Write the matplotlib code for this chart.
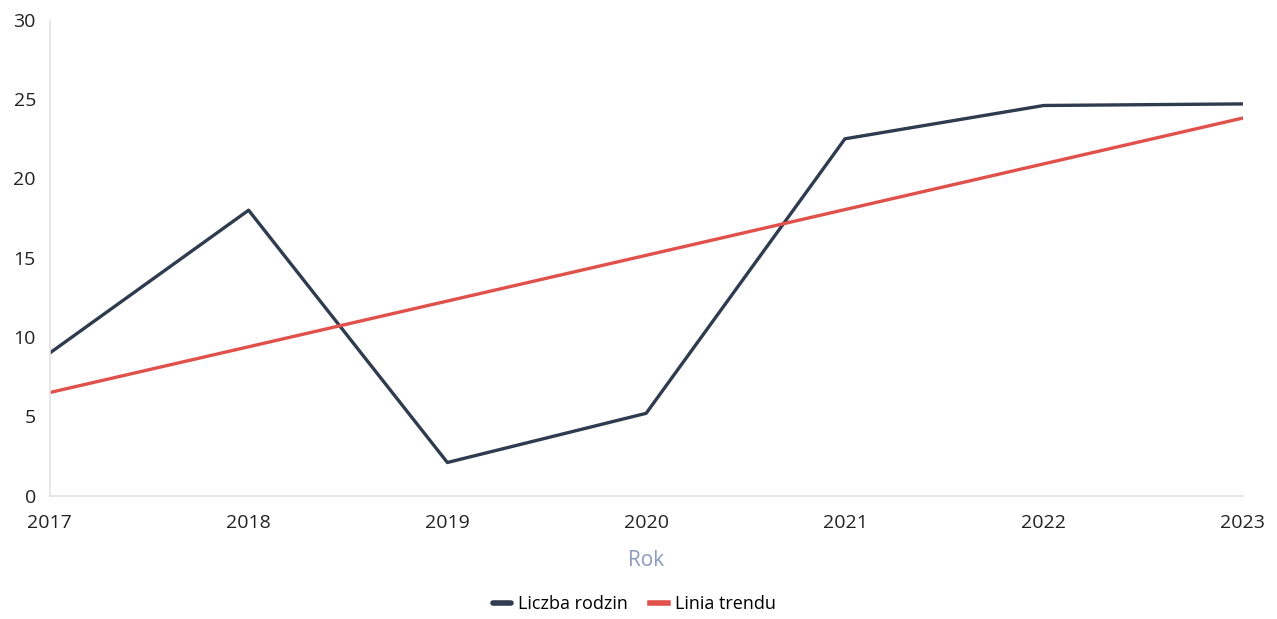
import matplotlib.pyplot as plt
import numpy as np

# dane
lata = [2017, 2018, 2019, 2020, 2021, 2022, 2023]
liczba_rodzin = [9, 18, 2.1, 5.2, 22.5, 24.6, 24.7]
y_ticks = [0, 5, 10, 15, 20, 25, 30]

plt.rcParams['font.family'] = ['Open Sans', 'DejaVu Sans']

fig = plt.figure(figsize=(12.77, 6.19), dpi=100)
ax = fig.add_axes([0.039, 0.199, 0.934, 0.769])

# linia trendu - dopasowanie liniowe
a, b = np.polyfit(lata, liczba_rodzin, 1)
trend = [a * r + b for r in lata]

ax.plot(lata, liczba_rodzin, color='#2f3b4e', lw=2.4, label='Liczba rodzin', solid_capstyle='round')
ax.plot(lata, trend, color='#e0514c', lw=2.4, label='Linia trendu')

ax.set_xlim(lata[0], lata[-1])
ax.set_ylim(0, 30)
ax.set_xticks(lata)
ax.set_yticks(y_ticks)
ax.tick_params(length=0, labelsize=14, colors='#222222')
ax.tick_params(axis='y', pad=10)
ax.tick_params(axis='x', pad=13)

for s in ['top', 'right']:
    ax.spines[s].set_visible(False)
for s in ['left', 'bottom']:
    ax.spines[s].set_color('#e3e3e3')
    ax.spines[s].set_linewidth(1.2)

ax.set_xlabel('Rok', color='#8b9bbd', fontsize=15, labelpad=13)

leg = ax.legend(loc='upper center', bbox_to_anchor=(0.49, -0.175), ncol=2,
                frameon=False, fontsize=13, handlelength=1.0, handletextpad=0.4,
                columnspacing=1.2)
for line in leg.get_lines():
    line.set_linewidth(4)

fig.savefig('out.png', dpi=100, facecolor='white')
